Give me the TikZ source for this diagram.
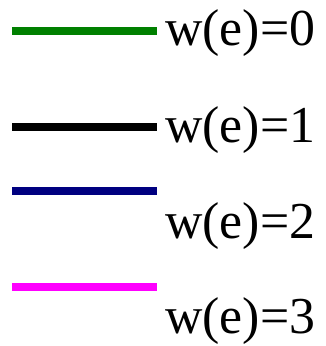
\documentclass[tikz,border=0pt]{standalone}
\usepackage{fontspec}
\setmainfont{Liberation Serif}
\definecolor{wgreen}{RGB}{0,128,0}
\definecolor{wnavy}{RGB}{0,0,128}
\definecolor{wmagenta}{RGB}{255,0,255}
\tikzset{
  weightline/.style={line width=8bp},
  weightlabel/.style={anchor=base west,inner sep=0pt,font=\fontsize{52}{52}\selectfont}
}
\begin{document}
\begin{tikzpicture}[x=1bp,y=1bp]
\useasboundingbox (0,0) rectangle (326,346);

\foreach \c/\ly/\ty [count=\i from 0] in {wgreen/315/301, black/218.5/204, wnavy/155/108, wmagenta/58.5/13}
{
  \coordinate (l\i a) at (12,\ly);
  \coordinate (l\i b) at (157,\ly);
  \draw[weightline,\c] (l\i a) -- (l\i b);
  \node[weightlabel] (w\i) at (165,\ty) {w(e)=\i};
}
\end{tikzpicture}
\end{document}
